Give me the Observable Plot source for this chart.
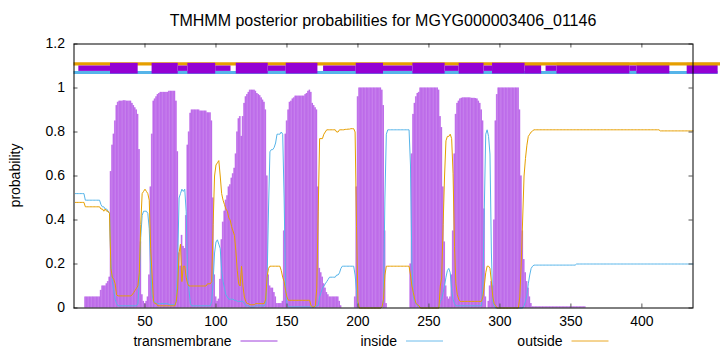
<!DOCTYPE html>
<html><head><meta charset="utf-8">
<script src="https://cdn.jsdelivr.net/npm/d3@7"></script>
<script src="https://cdn.jsdelivr.net/npm/@observablehq/plot@0.6"></script>
<style>html,body{margin:0;padding:0;background:#fff} svg{display:block}</style>
</head><body><div id="chart"></div>
<script>
const title = "TMHMM posterior probabilities for MGYG000003406_01146";
const yLabel = "probability";
const xTicks = [50, 100, 150, 200, 250, 300, 350, 400];
const yTicks = [0, 0.2, 0.4, 0.6, 0.8, 1, 1.2];
const seqLength = 436;
const seriesNames = ["transmembrane", "inside", "outside"];

// posterior probability per residue (1..436)
const transmembrane = [
  0, 0, 0, 0, 0, 0, 0, 0.05, 0.05, 0.05,
  0.05, 0.05, 0.05, 0.05, 0.05, 0.05, 0.05, 0.05, 0.08, 0.10,
  0.10, 0.10, 0.11, 0.12, 0.14, 0.62, 0.74, 0.79, 0.85, 0.92,
  0.935, 0.94, 0.94, 0.94, 0.942, 0.942, 0.94, 0.94, 0.94, 0.94,
  0.93, 0.92, 0.91, 0.90, 0.88, 0.72, 0.30, 0.06, 0.03, 0.02,
  0.03, 0.05, 0.15, 0.55, 0.79, 0.94, 0.95, 0.96, 0.97, 0.975,
  0.98, 0.98, 0.98, 0.98, 0.98, 0.98, 0.985, 0.985, 0.985, 0.985,
  0.985, 0.94, 0.71, 0.25, 0.19, 0.33, 0.28, 0.27, 0.42, 0.74,
  0.80, 0.885, 0.90, 0.90, 0.90, 0.90, 0.90, 0.90, 0.895, 0.895,
  0.895, 0.895, 0.895, 0.887, 0.887, 0.887, 0.85, 0.50, 0.15, 0.05,
  0.03, 0.04, 0.13, 0.31, 0.39, 0.44, 0.49, 0.51, 0.55, 0.56,
  0.59, 0.61, 0.635, 0.70, 0.80, 0.86, 0.87, 0.78, 0.87, 0.93,
  0.96, 0.97, 0.98, 0.99, 0.99, 0.99, 0.99, 0.985, 0.975, 0.97,
  0.965, 0.955, 0.945, 0.935, 0.90, 0.60, 0.15, 0.10, 0.09, 0.09,
  0.07, 0.05, 0.02, 0.02, 0.02, 0.02, 0.03, 0.35, 0.79, 0.85,
  0.90, 0.935, 0.94, 0.95, 0.955, 0.963, 0.963, 0.963, 0.963, 0.963,
  0.963, 0.963, 0.97, 0.975, 0.985, 0.99, 0.98, 0.93, 0.92, 0.91,
  0.90, 0.55, 0.18, 0.16, 0.14, 0.11, 0.09, 0.07, 0.06, 0.05,
  0.05, 0.05, 0.05, 0.05, 0.05, 0.05, 0.03, 0.01, 0, 0,
  0, 0, 0, 0, 0, 0, 0, 0.05, 0.55, 0.96,
  1, 1, 1, 1, 1, 1, 1, 1, 1, 1,
  1, 1, 1, 1, 1, 1, 0.99, 0.92, 0.35, 0.02,
  0, 0, 0, 0, 0, 0, 0, 0, 0, 0,
  0, 0, 0, 0, 0, 0, 0.20, 0.70, 0.88, 0.93,
  0.96, 0.975, 0.98, 1, 1, 1, 1, 1, 1, 1,
  1, 1, 1, 1, 1, 1, 0.99, 0.87, 0.82, 0.55,
  0.30, 0.10, 0.05, 0.04, 0.05, 0.15, 0.35, 0.70, 0.88, 0.93,
  0.94, 0.95, 0.953, 0.955, 0.955, 0.955, 0.955, 0.955, 0.955, 0.953,
  0.953, 0.953, 0.952, 0.95, 0.94, 0.93, 0.90, 0.85, 0.45, 0.05,
  0, 0.03, 0.10, 0.12, 0.10, 0.40, 0.85, 0.97, 1, 1,
  1, 1, 1, 1, 1, 1, 1, 1, 1, 1,
  1, 1, 1, 0.90, 0.60, 0.35, 0.22, 0.16, 0.12, 0.09,
  0.05, 0.02, 0.005, 0.005, 0.005, 0.005, 0.005, 0.005, 0.005, 0.005,
  0.005, 0.005, 0.005, 0.005, 0.005, 0.005, 0.005, 0.005, 0.005, 0.005,
  0.005, 0.005, 0.005, 0.005, 0.005, 0.005, 0.005, 0.005, 0.005, 0.005,
  0.005, 0.005, 0.005, 0.005, 0.005, 0.005, 0.005, 0.005, 0.005, 0.005,
  0, 0, 0, 0, 0, 0, 0, 0, 0, 0,
  0, 0, 0, 0, 0, 0, 0, 0, 0, 0,
  0, 0, 0, 0, 0, 0, 0, 0, 0, 0,
  0, 0, 0, 0, 0, 0, 0, 0, 0, 0,
  0, 0, 0, 0, 0, 0, 0, 0, 0, 0,
  0, 0, 0, 0, 0, 0, 0, 0, 0, 0,
  0, 0, 0, 0, 0, 0, 0, 0, 0, 0,
  0, 0, 0, 0, 0, 0
];

const inside = [
  0.52, 0.52, 0.52, 0.52, 0.52, 0.52, 0.52, 0.49, 0.49, 0.49,
  0.49, 0.49, 0.49, 0.49, 0.49, 0.49, 0.49, 0.49, 0.47, 0.46,
  0.46, 0.45, 0.45, 0.44, 0.43, 0.20, 0.12, 0.08, 0.04, 0.02,
  0.01, 0.01, 0.01, 0.01, 0.01, 0.01, 0.01, 0.01, 0.01, 0.01,
  0.01, 0.01, 0.01, 0.01, 0.02, 0.12, 0.32, 0.42, 0.44, 0.44,
  0.44, 0.43, 0.36, 0.18, 0.06, 0.03, 0.03, 0.02, 0.02, 0.02,
  0.02, 0.02, 0.02, 0.02, 0.02, 0.02, 0.015, 0.015, 0.015, 0.015,
  0.015, 0.03, 0.20, 0.50, 0.52, 0.54, 0.53, 0.54, 0.44, 0.15,
  0.08, 0.02, 0.01, 0.01, 0.01, 0.01, 0.01, 0.01, 0.01, 0.01,
  0.01, 0.01, 0.01, 0.01, 0.01, 0.01, 0.03, 0.12, 0.25, 0.30,
  0.31, 0.29, 0.27, 0.17, 0.12, 0.09, 0.06, 0.05, 0.04, 0.04,
  0.04, 0.04, 0.035, 0.035, 0.03, 0.03, 0.03, 0.03, 0.03, 0.02,
  0.01, 0.01, 0.01, 0.005, 0.005, 0.005, 0.005, 0.01, 0.01, 0.01,
  0.01, 0.01, 0.01, 0.01, 0.02, 0.12, 0.45, 0.71, 0.72, 0.72,
  0.73, 0.75, 0.79, 0.79, 0.79, 0.80, 0.79, 0.50, 0.10, 0.02,
  0.005, 0.005, 0.005, 0.005, 0.005, 0.005, 0.005, 0.005, 0.005, 0.005,
  0.005, 0.005, 0.005, 0.005, 0.005, 0.005, 0.005, 0.005, 0.005, 0.005,
  0.01, 0.01, 0.05, 0.07, 0.09, 0.10, 0.11, 0.12, 0.13, 0.14,
  0.14, 0.14, 0.14, 0.14, 0.15, 0.15, 0.16, 0.18, 0.19, 0.19,
  0.19, 0.19, 0.19, 0.19, 0.19, 0.19, 0.19, 0.15, 0.08, 0.01,
  0, 0, 0, 0, 0, 0, 0, 0, 0, 0,
  0, 0, 0, 0, 0, 0, 0.005, 0.04, 0.50, 0.79,
  0.81, 0.81, 0.81, 0.81, 0.81, 0.81, 0.81, 0.81, 0.81, 0.81,
  0.81, 0.81, 0.81, 0.81, 0.81, 0.81, 0.65, 0.20, 0.05, 0.03,
  0.02, 0.01, 0.01, 0, 0, 0, 0, 0, 0, 0,
  0, 0, 0, 0, 0, 0, 0, 0.03, 0.04, 0.07,
  0.10, 0.14, 0.17, 0.18, 0.16, 0.08, 0.04, 0.02, 0.01, 0.01,
  0.01, 0.01, 0.01, 0.01, 0.01, 0.01, 0.01, 0.01, 0.01, 0.01,
  0.01, 0.01, 0.01, 0.01, 0.01, 0.01, 0.01, 0.10, 0.45, 0.79,
  0.81, 0.78, 0.70, 0.25, 0.03, 0.01, 0, 0, 0, 0,
  0, 0, 0, 0, 0, 0, 0, 0, 0, 0,
  0, 0, 0, 0, 0, 0, 0.01, 0.03, 0.06, 0.11,
  0.15, 0.18, 0.19, 0.195, 0.195, 0.195, 0.195, 0.195, 0.195, 0.195,
  0.195, 0.195, 0.195, 0.195, 0.195, 0.195, 0.195, 0.195, 0.195, 0.195,
  0.195, 0.195, 0.195, 0.195, 0.195, 0.195, 0.195, 0.195, 0.195, 0.195,
  0.195, 0.195, 0.195, 0.2, 0.2, 0.2, 0.2, 0.2, 0.2, 0.2,
  0.2, 0.2, 0.2, 0.2, 0.2, 0.2, 0.2, 0.2, 0.2, 0.2,
  0.2, 0.2, 0.2, 0.2, 0.2, 0.2, 0.2, 0.2, 0.2, 0.2,
  0.2, 0.2, 0.2, 0.2, 0.2, 0.2, 0.2, 0.2, 0.2, 0.2,
  0.2, 0.2, 0.2, 0.2, 0.2, 0.2, 0.2, 0.2, 0.2, 0.2,
  0.2, 0.2, 0.2, 0.2, 0.2, 0.2, 0.2, 0.2, 0.2, 0.2,
  0.2, 0.2, 0.2, 0.2, 0.2, 0.2, 0.2, 0.2, 0.2, 0.2,
  0.2, 0.2, 0.2, 0.2, 0.2, 0.2, 0.2, 0.2, 0.2, 0.2,
  0.2, 0.2, 0.2, 0.2, 0.2, 0.2
];

const outside = [
  0.48, 0.48, 0.48, 0.48, 0.48, 0.48, 0.48, 0.46, 0.46, 0.46,
  0.46, 0.46, 0.46, 0.46, 0.46, 0.46, 0.46, 0.46, 0.45, 0.45,
  0.44, 0.45, 0.44, 0.44, 0.43, 0.18, 0.14, 0.13, 0.11, 0.06,
  0.055, 0.055, 0.055, 0.055, 0.055, 0.055, 0.055, 0.055, 0.055, 0.055,
  0.06, 0.07, 0.08, 0.09, 0.10, 0.16, 0.38, 0.52, 0.53, 0.54,
  0.53, 0.52, 0.49, 0.27, 0.15, 0.03, 0.02, 0.02, 0.01, 0.01,
  0.01, 0.01, 0.01, 0.01, 0.01, 0.01, 0.01, 0.01, 0.01, 0.01,
  0.01, 0.03, 0.09, 0.25, 0.29, 0.12, 0.19, 0.19, 0.14, 0.11,
  0.10, 0.10, 0.10, 0.10, 0.10, 0.10, 0.10, 0.10, 0.10, 0.10,
  0.10, 0.10, 0.10, 0.11, 0.11, 0.11, 0.12, 0.38, 0.60, 0.65,
  0.66, 0.67, 0.60, 0.52, 0.49, 0.47, 0.45, 0.44, 0.41, 0.40,
  0.37, 0.35, 0.33, 0.26, 0.17, 0.11, 0.10, 0.19, 0.10, 0.05,
  0.03, 0.02, 0.02, 0.015, 0.015, 0.015, 0.015, 0.02, 0.02, 0.02,
  0.02, 0.02, 0.02, 0.02, 0.04, 0.14, 0.18, 0.19, 0.19, 0.19,
  0.19, 0.19, 0.19, 0.19, 0.19, 0.17, 0.14, 0.12, 0.08, 0.05,
  0.035, 0.035, 0.035, 0.035, 0.035, 0.035, 0.035, 0.035, 0.035, 0.035,
  0.035, 0.035, 0.035, 0.035, 0.035, 0.035, 0.01, 0.005, 0.005, 0.01,
  0.09, 0.44, 0.77, 0.77, 0.77, 0.79, 0.80, 0.81, 0.81, 0.81,
  0.81, 0.81, 0.81, 0.81, 0.80, 0.80, 0.81, 0.81, 0.81, 0.81,
  0.812, 0.812, 0.813, 0.813, 0.815, 0.815, 0.815, 0.80, 0.37, 0.03,
  0, 0, 0, 0, 0, 0, 0, 0, 0, 0,
  0, 0, 0, 0, 0, 0, 0.005, 0.04, 0.15, 0.19,
  0.19, 0.19, 0.19, 0.19, 0.19, 0.19, 0.19, 0.19, 0.19, 0.19,
  0.19, 0.19, 0.19, 0.19, 0.19, 0.19, 0.15, 0.10, 0.07, 0.04,
  0.02, 0.015, 0.01, 0, 0, 0, 0, 0, 0, 0,
  0, 0, 0, 0, 0, 0, 0, 0.10, 0.14, 0.38,
  0.60, 0.76, 0.78, 0.78, 0.79, 0.77, 0.61, 0.28, 0.11, 0.06,
  0.04, 0.03, 0.03, 0.03, 0.03, 0.03, 0.03, 0.03, 0.03, 0.03,
  0.03, 0.03, 0.03, 0.03, 0.03, 0.03, 0.03, 0.05, 0.10, 0.16,
  0.19, 0.19, 0.18, 0.12, 0.05, 0.02, 0.01, 0, 0, 0,
  0, 0, 0, 0, 0, 0, 0, 0, 0, 0,
  0, 0, 0, 0.05, 0.20, 0.40, 0.60, 0.68, 0.74, 0.78,
  0.79, 0.80, 0.805, 0.81, 0.81, 0.81, 0.81, 0.81, 0.81, 0.81,
  0.81, 0.81, 0.81, 0.81, 0.81, 0.81, 0.81, 0.81, 0.81, 0.81,
  0.81, 0.81, 0.81, 0.81, 0.81, 0.81, 0.81, 0.81, 0.81, 0.81,
  0.81, 0.81, 0.81, 0.81, 0.81, 0.81, 0.81, 0.81, 0.81, 0.81,
  0.81, 0.81, 0.81, 0.81, 0.81, 0.81, 0.81, 0.81, 0.81, 0.81,
  0.81, 0.81, 0.81, 0.81, 0.81, 0.81, 0.81, 0.81, 0.81, 0.81,
  0.81, 0.81, 0.81, 0.81, 0.81, 0.81, 0.81, 0.81, 0.81, 0.81,
  0.81, 0.81, 0.81, 0.81, 0.81, 0.81, 0.81, 0.81, 0.81, 0.81,
  0.81, 0.81, 0.81, 0.81, 0.81, 0.81, 0.81, 0.81, 0.81, 0.81,
  0.81, 0.81, 0.805, 0.805, 0.805, 0.805, 0.805, 0.805, 0.805, 0.805,
  0.805, 0.805, 0.805, 0.805, 0.805, 0.805, 0.805, 0.805, 0.805, 0.805,
  0.805, 0.805, 0.805, 0.805, 0.805, 0.805
];

// predicted topology bars drawn above the plot (residue ranges)
const outsideTrack = [[0, 456]];
const insideTrack = [[0, 453.7]];
const tmSegments = [[25.7, 45.2], [55.0, 73.4], [80.2, 99.8], [114.3, 136.8], [149.5, 171.8],
  [198.8, 218.0], [238.7, 261.4], [271.3, 288.8], [294.8, 317.7]];
const tmThinSegments = [[3.4, 25.7], [73.4, 80.2], [99.8, 110.6], [136.8, 149.5], [175.8, 198.8],
  [218.0, 238.7], [261.4, 271.3], [288.8, 294.8], [332.5, 340.2], [391.5, 396.5]];
const tmLateSegments = [[317.7, 329.4], [340.2, 391.5], [396.5, 419.7], [431.9, 453.7]];
const trackLevels = {inside: 1.07, transmembrane: 1.09, outside: 1.11};

const purple = "#9400d3", blue = "#56b4e9", orange = "#e69f00";
const rows = transmembrane.map((tm, i) => ({r: i + 1, tm, inside: inside[i], outside: outside[i]}));

const seg = {x1: d => d[0], x2: d => d[1]};
const plot = Plot.plot({
  width: 720, height: 352,
  marginLeft: 73.5, marginRight: 27.5, marginTop: 43.5, marginBottom: 44.5,
  style: {fontFamily: "'Liberation Sans', Arial, sans-serif", fontSize: "14px", background: "white", color: "black"},
  x: {domain: [0, seqLength]},
  y: {domain: [0, 1.2]},
  marks: [
    Plot.rect(rows, {x1: d => d.r - 0.5, x2: d => d.r + 0.5, y1: 0, y2: "tm", fill: "#cc88ef"}),
    Plot.ruleX(rows, {x: "r", y1: 0, y2: "tm", stroke: "#a944e2", strokeWidth: 0.6}),
    Plot.line(rows, {x: "r", y: "inside", stroke: blue, strokeWidth: 1}),
    Plot.line(rows, {x: "r", y: "outside", stroke: orange, strokeWidth: 1}),
    Plot.ruleY(insideTrack, {...seg, y: trackLevels.inside, stroke: blue, strokeWidth: 3}),
    Plot.ruleY(tmLateSegments, {...seg, y: trackLevels.transmembrane, stroke: purple, strokeWidth: 10.7}),
    Plot.ruleY(outsideTrack, {...seg, y: trackLevels.outside, stroke: orange, strokeWidth: 3.3}),
    Plot.ruleY(tmThinSegments, {...seg, y: trackLevels.transmembrane, stroke: purple, strokeWidth: 5.4}),
    Plot.ruleY(tmSegments, {...seg, y: trackLevels.transmembrane, stroke: purple, strokeWidth: 10.7}),
    Plot.tickX(xTicks, {x: d => d, insetTop: 260, stroke: "#555"}),
    Plot.tickX(xTicks, {x: d => d, insetBottom: 260, stroke: "#555"}),
    Plot.tickY(yTicks, {y: d => d, insetRight: 615, stroke: "#555"}),
    Plot.tickY(yTicks, {y: d => d, insetLeft: 615, stroke: "#555"}),
    Plot.frame({stroke: "black"}),
    Plot.axisX(xTicks, {anchor: "bottom", tickSize: 0, tickPadding: 8, tickFormat: d => String(d), label: null}),
    Plot.axisY(yTicks, {anchor: "left", tickSize: 0, tickPadding: 9, tickFormat: d => String(d), label: null})
  ]
});

const svg = d3.select(plot);
svg.append("text").attr("x", 383).attr("y", 26).attr("text-anchor", "middle")
  .attr("fill", "black").style("font-size", "16px").text(title);
svg.append("text").attr("transform", "translate(20,175.5) rotate(-90)").attr("text-anchor", "middle")
  .attr("fill", "black").style("font-size", "14px").text(yLabel);
const legendColors = ["#a040dc", "#6cbcec", "#eaa824"];
const lg = svg.append("g");
seriesNames.forEach((name, i) => {
  const xe = 231.5 + i * 165.5;
  lg.append("text").attr("x", xe).attr("y", 346).attr("text-anchor", "end")
    .attr("fill", "black").style("font-size", "14px").text(name);
  lg.append("line").attr("x1", xe + 9).attr("x2", xe + 46).attr("y1", 341).attr("y2", 341)
    .attr("stroke", legendColors[i]).attr("stroke-width", 1);
});
document.getElementById("chart").appendChild(plot);
</script>
</body></html>
